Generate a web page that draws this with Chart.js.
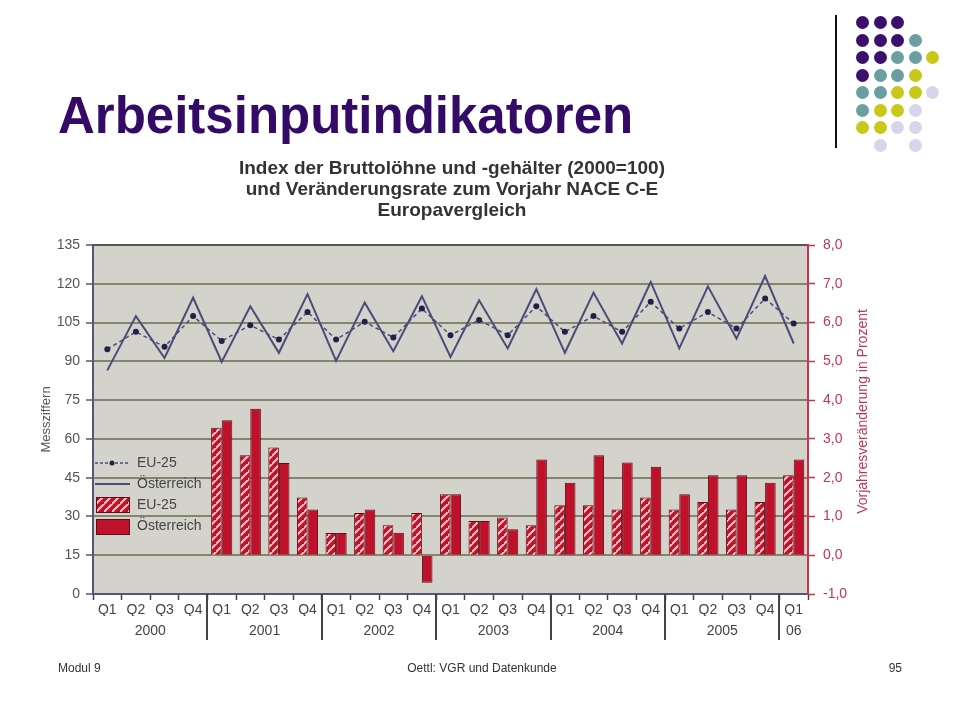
<!DOCTYPE html>
<html>
<head>
<meta charset="utf-8">
<script src="https://cdn.jsdelivr.net/npm/chart.js@4"></script>
<style>
  body { margin: 0; background: #fff; font-family: "Liberation Sans", Arial, sans-serif; }
  #slide { position: relative; width: 960px; height: 720px; overflow: hidden; }
  #c { position: absolute; left: 0; top: 0; }
  .title { position: absolute; left: 58px; top: 90px; font-size: 51px; line-height: 51px; font-weight: bold; color: #330a66; }
  .sub { position: absolute; left: 152px; width: 600px; top: 157px; text-align: center; font-size: 19px; line-height: 21px; font-weight: bold; color: #333; }
  .foot { position: absolute; top: 661px; font-size: 12px; line-height: 14px; color: #333; }
  .vline { position: absolute; left: 835px; top: 15px; width: 2px; height: 133px; background: #111; }
  .dot { position: absolute; width: 13px; height: 13px; border-radius: 50%; }
</style>
</head>
<body>
<div id="slide">
  <canvas id="c" width="960" height="720"></canvas>
  <div class="title">Arbeitsinputindikatoren</div>
  <div class="sub">Index der Bruttolöhne und -gehälter (2000=100)<br>und Veränderungsrate zum Vorjahr NACE C-E<br>Europavergleich</div>
  <div class="foot" style="left:58px">Modul 9</div>
  <div class="foot" style="left:382px;width:200px;text-align:center">Oettl: VGR und Datenkunde</div>
  <div class="foot" style="left:802px;width:100px;text-align:right">95</div>
  <div class="vline"></div>
  <div id="dots"></div>
</div>
<script>
// Daten
const qLabels = ['Q1','Q2','Q3','Q4','Q1','Q2','Q3','Q4','Q1','Q2','Q3','Q4','Q1','Q2','Q3','Q4',
                 'Q1','Q2','Q3','Q4','Q1','Q2','Q3','Q4','Q1'];
const yearLabels = ['2000','2001','2002','2003','2004','2005','06'];
const yearQuarters = [4, 4, 4, 4, 4, 4, 1];

// Index (linke Achse)
const eu25Index = [94.7,101.4,95.6,107.5,97.9,104.0,98.4,109.1,98.4,105.3,99.2,110.4,100.1,
                   106.0,100.1,111.3,101.4,107.5,101.4,113.0,102.7,109.1,102.7,114.3,104.6];
const atIndex = [86.5,107.5,91.3,114.6,89.8,111.3,93.3,116.0,90.2,112.7,93.9,115.2,91.7,
                 113.6,95.0,117.9,93.3,116.6,96.9,120.7,95.0,119.0,98.8,123.0,96.9];

// Veränderungsrate in % (rechte Achse)
const eu25Rate = [null,null,null,null,3.29,2.58,2.78,1.49,0.57,1.09,0.77,1.09,1.57,
                  0.88,0.97,0.77,1.29,1.29,1.18,1.49,1.18,1.37,1.18,1.37,2.06];
const atRate = [null,null,null,null,3.48,3.78,2.38,1.18,0.57,1.18,0.58,-0.71,1.57,
                0.88,0.67,2.47,1.87,2.58,2.39,2.28,1.57,2.06,2.06,1.87,2.47];

const leftTicks = [0, 135, 15];
const rightTicks = [-1, 8, 1];

// Farben
const red = '#c0112b';
const redText = '#c2364f';
const lineCol = '#4b4b7a';

// Schraffur für EU-25 Balken
function hatch() {
  const s = 8;
  const c = document.createElement('canvas');
  c.width = s; c.height = s;
  const g = c.getContext('2d');
  g.fillStyle = red;
  g.fillRect(0, 0, s, s);
  g.strokeStyle = '#f8c4c6';
  g.lineWidth = 2;
  g.beginPath();
  g.moveTo(-1, s + 1); g.lineTo(s + 1, -1);
  g.moveTo(-s - 1, s + 1); g.lineTo(1, -1);
  g.moveTo(s - 1, 2 * s + 1); g.lineTo(2 * s + 1, s - 1);
  g.stroke();
  return g.createPattern(c, 'repeat');
}
const hatchFill = hatch();

// Jahresmitte für die zweite Beschriftungszeile
const yearCenters = [];
let acc = 0;
yearQuarters.forEach(n => { yearCenters.push(acc + n / 2); acc += n; });

const plotBg = {
  id: 'plotBg',
  beforeDraw(chart) {
    const a = chart.chartArea, ctx = chart.ctx;
    ctx.save();
    ctx.fillStyle = '#d3d3cb';
    ctx.fillRect(a.left, a.top, a.right - a.left, a.bottom - a.top);
    ctx.restore();
  }
};

const extras = {
  id: 'extras',
  afterDraw(chart) {
    const ctx = chart.ctx, a = chart.chartArea, x = chart.scales.x;
    ctx.save();
    // Jahrestrenner
    ctx.strokeStyle = '#444';
    ctx.lineWidth = 2;
    let k = 0;
    yearQuarters.slice(0, -1).forEach(n => {
      k += n;
      const px = Math.round((x.getPixelForValue(k - 1) + x.getPixelForValue(k)) / 2);
      ctx.beginPath();
      ctx.moveTo(px, a.bottom);
      ctx.lineTo(px, a.bottom + 46);
      ctx.stroke();
    });
    // rechter Achsentitel
    ctx.fillStyle = redText;
    ctx.font = '14px "Liberation Sans", Arial';
    ctx.textAlign = 'center';
    ctx.textBaseline = 'middle';
    ctx.translate(863, (a.top + a.bottom) / 2 - 8);
    ctx.rotate(-Math.PI / 2);
    ctx.fillText('Vorjahresveränderung in Prozent', 0, 0);
    ctx.restore();

    // Legende
    ctx.save();
    const lx = a.left + 2, ty = a.top;
    ctx.font = '14px "Liberation Sans", Arial';
    ctx.fillStyle = '#444';
    ctx.textBaseline = 'middle';
    ctx.fillText('EU-25', lx + 42, ty + 218);
    ctx.fillText('Österreich', lx + 42, ty + 239);
    ctx.fillText('EU-25', lx + 42, ty + 260);
    ctx.fillText('Österreich', lx + 42, ty + 281);
    ctx.strokeStyle = lineCol;
    ctx.lineWidth = 1.5;
    ctx.setLineDash([3, 2]);
    ctx.beginPath(); ctx.moveTo(lx, ty + 218); ctx.lineTo(lx + 35, ty + 218); ctx.stroke();
    ctx.setLineDash([]);
    ctx.fillStyle = '#20204a';
    ctx.beginPath(); ctx.arc(lx + 17, ty + 218, 2.5, 0, Math.PI * 2); ctx.fill();
    ctx.lineWidth = 2;
    ctx.beginPath(); ctx.moveTo(lx, ty + 239); ctx.lineTo(lx + 35, ty + 239); ctx.stroke();
    ctx.strokeStyle = '#5a0e18';
    ctx.lineWidth = 1;
    ctx.fillStyle = hatchFill;
    ctx.fillRect(lx + 1, ty + 252, 33, 15);
    ctx.strokeRect(lx + 1.5, ty + 252.5, 33, 15);
    ctx.fillStyle = red;
    ctx.fillRect(lx + 1, ty + 274, 33, 15);
    ctx.strokeRect(lx + 1.5, ty + 274.5, 33, 15);
    ctx.restore();
  }
};

new Chart(document.getElementById('c'), {
  data: {
    labels: qLabels,
    datasets: [
      { type: 'line', label: 'EU-25', data: eu25Index, yAxisID: 'y', order: 1,
        borderColor: lineCol, borderWidth: 1.5, borderDash: [4, 3], tension: 0,
        pointRadius: 3, pointBackgroundColor: '#20204a', pointBorderWidth: 0 },
      { type: 'line', label: 'Österreich', data: atIndex, yAxisID: 'y', order: 0,
        borderColor: lineCol, borderWidth: 2, tension: 0, pointRadius: 0 },
      { type: 'bar', label: 'EU-25', data: eu25Rate, yAxisID: 'y1', order: 2,
        backgroundColor: hatchFill, borderColor: '#5a0e18', borderWidth: 1,
        categoryPercentage: 0.74, barPercentage: 1.0 },
      { type: 'bar', label: 'Österreich', data: atRate, yAxisID: 'y1', order: 3,
        backgroundColor: red, borderColor: '#5a0e18', borderWidth: 1,
        categoryPercentage: 0.74, barPercentage: 1.0 }
    ]
  },
  options: {
    responsive: false,
    animation: false,
    devicePixelRatio: 1,
    layout: { padding: { left: 30, right: 90, top: 245, bottom: 80 } },
    plugins: { legend: { display: false }, tooltip: { enabled: false }, title: { display: false } },
    scales: {
      x: {
        type: 'category',
        position: 'bottom',
        offset: true,
        afterFit(s) { s.height = 22; },
        grid: { offset: true, drawOnChartArea: false, tickLength: 6, tickColor: '#444', tickWidth: 1.5 },
        border: { color: '#55557a', width: 2 },
        ticks: { color: '#444', font: { size: 14, family: '"Liberation Sans", Arial' }, padding: 2,
                 maxRotation: 0, autoSkip: false }
      },
      x2: {
        type: 'linear',
        position: 'bottom',
        min: 0,
        max: qLabels.length,
        afterFit(s) { s.height = 24; },
        afterBuildTicks(s) { s.ticks = yearCenters.map(v => ({ value: v })); },
        grid: { display: false, drawTicks: false },
        border: { display: false },
        ticks: { color: '#444', font: { size: 14, family: '"Liberation Sans", Arial' }, padding: 7,
                 maxRotation: 0, autoSkip: false,
                 callback: (v, i) => yearLabels[i] }
      },
      y: {
        position: 'left',
        min: leftTicks[0], max: leftTicks[1],
        afterFit(s) { s.width = 63; },
        ticks: { stepSize: leftTicks[2], color: '#555', font: { size: 14, family: '"Liberation Sans", Arial' }, padding: 6 },
        grid: { color: ctx => ctx.index === 9 ? '#55554a' : '#84846f', lineWidth: 2,
                tickLength: 7, tickColor: '#55557a', tickWidth: 1.5 },
        border: { color: '#55557a', width: 2 },
        title: { display: true, text: 'Messziffern', color: '#555',
                 font: { size: 13, family: '"Liberation Sans", Arial' }, padding: { top: 9, bottom: 0 } }
      },
      y1: {
        position: 'right',
        min: rightTicks[0], max: rightTicks[1],
        afterFit(s) { s.width = 62; },
        ticks: { stepSize: rightTicks[2], color: redText, font: { size: 14, family: '"Liberation Sans", Arial' }, padding: 8,
                 callback: v => v.toFixed(1).replace('.', ',') },
        grid: { drawOnChartArea: false, tickLength: 7, tickColor: redText, tickWidth: 1.5 },
        border: { color: redText, width: 2 }
      }
    }
  },
  plugins: [plotBg, extras]
});

// Dekorpunkte oben rechts
const dotColors = { P: '#3b0f6b', T: '#6a9ea0', Y: '#c8c81a', L: '#d6d6ea' };
const dotRows = ['PPP', 'PPPT', 'PPTTY', 'PTTY', 'TTYYL', 'TYYL', 'YYLL', '.L.L'];
const dots = document.getElementById('dots');
dotRows.forEach((row, r) => {
  row.split('').forEach((ch, c) => {
    if (ch === '.') return;
    const d = document.createElement('div');
    d.className = 'dot';
    d.style.left = (856 + c * 17.5) + 'px';
    d.style.top = (16 + r * 17.5) + 'px';
    d.style.background = dotColors[ch];
    dots.appendChild(d);
  });
});
</script>
</body>
</html>
